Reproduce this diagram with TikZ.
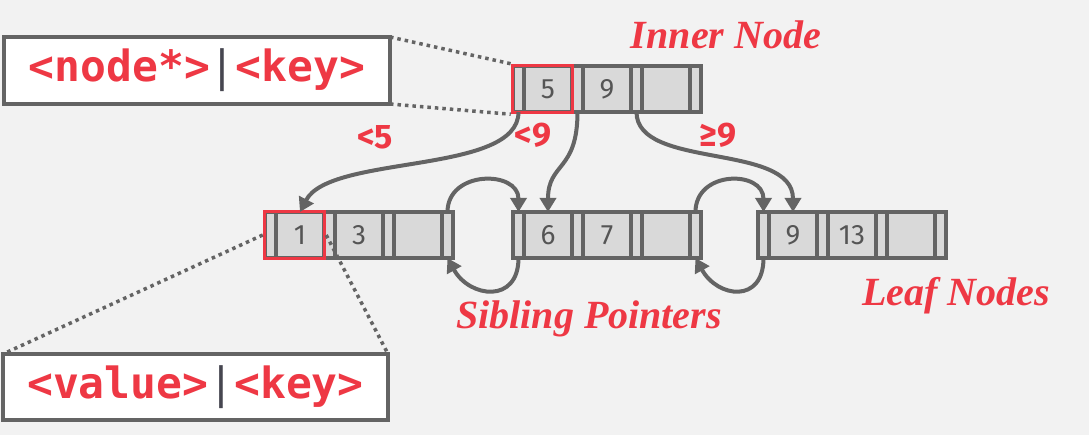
\documentclass[tikz,border=0pt]{standalone}
\usepackage{fontspec}
\setmainfont{Liberation Serif}
\newfontfamily\keyfont{Fira Sans}
\newfontfamily\codefont{DejaVu Sans Mono}
\usetikzlibrary{arrows.meta,fit}
\definecolor{bg}{RGB}{242,242,242}
\definecolor{edge}{RGB}{100,100,100}
\definecolor{cellfill}{RGB}{217,217,217}
\definecolor{accent}{RGB}{238,56,68}
\definecolor{keygray}{RGB}{85,85,85}
\definecolor{bar}{RGB}{70,70,80}
\tikzset{
  cell/.style={draw=edge, fill=cellfill, line width=3.5pt, inner sep=0pt, outer sep=0pt,
    minimum height=46pt, anchor=north west},
  ptrcell/.style={cell, minimum width=11pt},
  keycell/.style={cell, minimum width=48pt, text=keygray,
    font=\keyfont\fontsize{28}{28}\selectfont},
  hl/.style={draw=accent, line width=3.5pt, inner sep=0.5pt},
  codebox/.style={draw=edge, fill=white, line width=4pt, inner sep=0pt, outer sep=0pt,
    anchor=north west, text=accent, font=\codefont\bfseries\fontsize{43}{43}\selectfont},
  dots/.style={draw=edge, line width=3.5pt, dash pattern=on 3.5pt off 4pt},
  ptr/.style={draw=edge, line width=4pt, -{Triangle[length=14pt,width=16pt]}},
  cond/.style={text=accent, font=\keyfont\bfseries\fontsize{34}{34}\selectfont},
  title/.style={text=accent, anchor=base, font=\bfseries\itshape\fontsize{40}{40}\selectfont},
}
\newcommand\bpnode[6]{%
  \node[ptrcell] (#1-p0) at (#2,#3) {};
  \node[keycell] (#1-k1) at (#1-p0.north east) {#4};
  \node[ptrcell] (#1-p1) at (#1-k1.north east) {};
  \node[keycell] (#1-k2) at (#1-p1.north east) {#5};
  \node[ptrcell] (#1-p2) at (#1-k2.north east) {};
  \node[keycell] (#1-k3) at (#1-p2.north east) {#6};
  \node[ptrcell] (#1-p3) at (#1-k3.north east) {};
}
\begin{document}
\begin{tikzpicture}[x=1pt, y=-1pt]
\useasboundingbox (0,0) rectangle (1089,435);
\fill[bg] (0,0) rectangle (1089,435);

% B+tree nodes
\bpnode{inner}{513}{66}{5}{9}{}
\bpnode{leafa}{265}{212}{1}{3}{}
\bpnode{leafb}{513}{212}{6}{7}{}
\bpnode{leafc}{758}{212}{9}{13}{}

\node[hl, fit=(inner-p0)(inner-k1)] (innerhl) {};
\node[hl, fit=(leafa-p0)(leafa-k1)] (leafhl) {};

% explanation boxes
\node[codebox, minimum width=386pt, minimum height=67pt] (ptrbox) at (4,37)
  {<node*>\textcolor{bar}{\mdseries|}<key>};
\node[codebox, minimum width=385pt, minimum height=66pt] (valbox) at (3,354)
  {<value>\textcolor{bar}{\mdseries|}<key>};

\draw[dots] (ptrbox.north east) -- (innerhl.north west);
\draw[dots] (ptrbox.south east) -- (innerhl.south west);
\draw[dots] (leafhl.west) -- (valbox.north west);
\draw[dots] (leafhl.east) -- (valbox.north east);

% child pointers
\draw[ptr] (inner-p0.south) .. controls +(0,63) and +(30,-58) .. (leafa-k1.north);
\draw[ptr] (inner-p1.south) .. controls +(0,60) and +(0,-50) .. (leafb-k1.north);
\draw[ptr] (inner-p2.south) .. controls +(0,58) and +(0,-70) .. (leafc-k1.north);

% sibling pointers
\draw[ptr] (leafa-p3.north) .. controls +(0,-42) and +(0,-42) .. (leafb-p0.north);
\draw[ptr] (leafb-p0.south) .. controls +(0,46) and +(22,40) .. (leafa-p3.south);
\draw[ptr] (leafb-p3.north) .. controls +(0,-42) and +(0,-42) .. (leafc-p0.north);
\draw[ptr] (leafc-p0.south) .. controls +(0,46) and +(22,40) .. (leafb-p3.south);

% condition labels
\node[cond] (lt5) at (375,137) {<5};
\node[cond] (lt9) at (533,135) {<9};
\node[cond] (ge9) at (718,135) {≥9};

% titles
\node[title] (innerlbl) at (726,49) {Inner Node};
\node[title] (leaflbl) at (956,306) {Leaf Nodes};
\node[title] (siblbl) at (589,329) {Sibling Pointers};
\end{tikzpicture}
\end{document}
